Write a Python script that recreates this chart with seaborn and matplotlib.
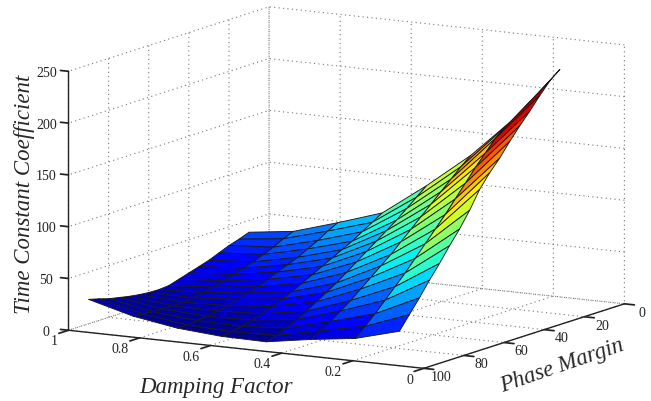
import numpy as np
import matplotlib
matplotlib.use("Agg")
import matplotlib.pyplot as plt
from matplotlib.colors import Normalize
import seaborn as sns

# values, one list per damping factor (PM 90 -> 10)
phase_margin = [90, 85, 80, 75, 70, 65, 60, 55, 50, 45, 40, 35, 30, 25, 20, 15, 10]
damping = [1, 0.875, 0.75, 0.625, 0.5, 0.375, 0.25, 0.125]
z_d1000 = [23.6, 21, 18, 16, 14, 12.5, 11.5, 11.2, 12, 15, 18, 21, 24, 28, 32, 35, 38.6]
z_d0875 = [12, 11, 10, 9.5, 9.5, 10, 11, 13, 15, 18, 21, 24, 27, 31, 35, 40, 44]
z_d0750 = [5, 5, 6, 7, 9, 11, 14, 17, 20, 24, 28, 32, 36, 41, 46, 52, 57]
z_d0625 = [1.6, 3, 5, 8, 11, 15, 19, 23, 28, 33, 38, 43, 48, 53, 59, 65, 71]
z_d0500 = [1, 4, 8, 13, 18, 24, 30, 36, 43, 50, 57, 64, 71, 78, 86, 94, 102]
z_d0375 = [7.9, 13, 19, 26, 33, 41, 49, 57, 65, 74, 83, 92, 101, 110, 119, 128, 136]
z_d0250 = [13.4, 22, 31, 41, 51, 61, 72, 83, 94, 105, 117, 129, 141, 152, 163, 171, 177]
z_d0125 = [25, 38, 51, 65, 78, 92, 105, 120, 137, 150, 161, 174, 186, 197, 209, 220, 228]

sns.set_theme(style="white", rc={"grid.linestyle": (0, (1, 3)), "grid.color": "#777777", "grid.linewidth": 0.8,
                                 "axes.edgecolor": "#222222", "axes.linewidth": 1.0,
                                 "xtick.color": "#222222", "ytick.color": "#222222"})
plt.rcParams["font.family"] = ["Liberation Serif", "DejaVu Serif"]

Z = np.array([z_d1000, z_d0875, z_d0750, z_d0625, z_d0500, z_d0375, z_d0250, z_d0125]).T
X, Y = np.meshgrid(damping, phase_margin)

# MATLAB style flat shading: a face takes the colour of its last corner
cmap = matplotlib.colormaps["jet"]
norm = Normalize(Z.min(), Z.max())
colors = cmap(norm(Z))
colors[:-1, :-1] = cmap(norm(Z[1:, 1:]))

fig = plt.figure(figsize=(6.51, 4.02), dpi=100)
ax = fig.add_axes([15.5 / 651, 7 / 402, 1, 1], projection="3d")
ax.set_proj_type("ortho")
ax.view_init(elev=10.7, azim=120)
ax.set_box_aspect((411, 402, 264), zoom=1.525)

surf = ax.plot_surface(X, Y, Z, facecolors=colors, rstride=1, cstride=1, shade=False,
                       edgecolor="#1a1a1a", linewidth=0.65)
surf.set_clip_on(False)

ax.set_xlim(0, 1, view_margin=0)
ax.set_ylim(0, 100, view_margin=0)
ax.set_zlim(0, 250, view_margin=0)
ax.set_xticks([0, 0.2, 0.4, 0.6, 0.8, 1])
ax.set_xticklabels(["0", "0.2", "0.4", "0.6", "0.8", "1"])
ax.set_yticks([0, 20, 40, 60, 80, 100])
ax.set_zticks([0, 50, 100, 150, 200, 250])
ax.tick_params(axis="x", labelsize=10, colors="#222222", pad=0)
ax.tick_params(axis="y", labelsize=10, colors="#222222", pad=-0.5)
ax.tick_params(axis="z", labelsize=10, colors="#222222", pad=-2)
ax.zaxis._axinfo["juggled"] = (1, 2, 0)
ax.xaxis._axinfo["tick"].update(inward_factor=0.6, outward_factor=0)
ax.yaxis._axinfo["tick"].update(inward_factor=0.35, outward_factor=0)
ax.zaxis._axinfo["tick"].update(inward_factor=0, outward_factor=0.28)
for lab in ax.get_xticklabels():
    lab.set_va("bottom")
    lab.set_ha("right")
for lab in ax.get_yticklabels():
    lab.set_va("bottom")
for lab in ax.get_zticklabels():
    lab.set_va("center")

for axis in (ax.xaxis, ax.yaxis, ax.zaxis):
    axis.set_pane_color((1, 1, 1, 0))
    axis.pane.set_edgecolor((1, 1, 1, 0))

fig.text(0.332, 0.035, "Damping Factor", fontsize=16.5, style="italic", ha="center", va="center")
fig.text(0.863, 0.09, "Phase Margin", fontsize=16.5, style="italic", ha="center", va="center", rotation=19)
fig.text(0.037, 0.517, "Time Constant Coefficient", fontsize=16.5, style="italic", ha="center", va="center", rotation=90)

plt.savefig("out.png", dpi=100)
